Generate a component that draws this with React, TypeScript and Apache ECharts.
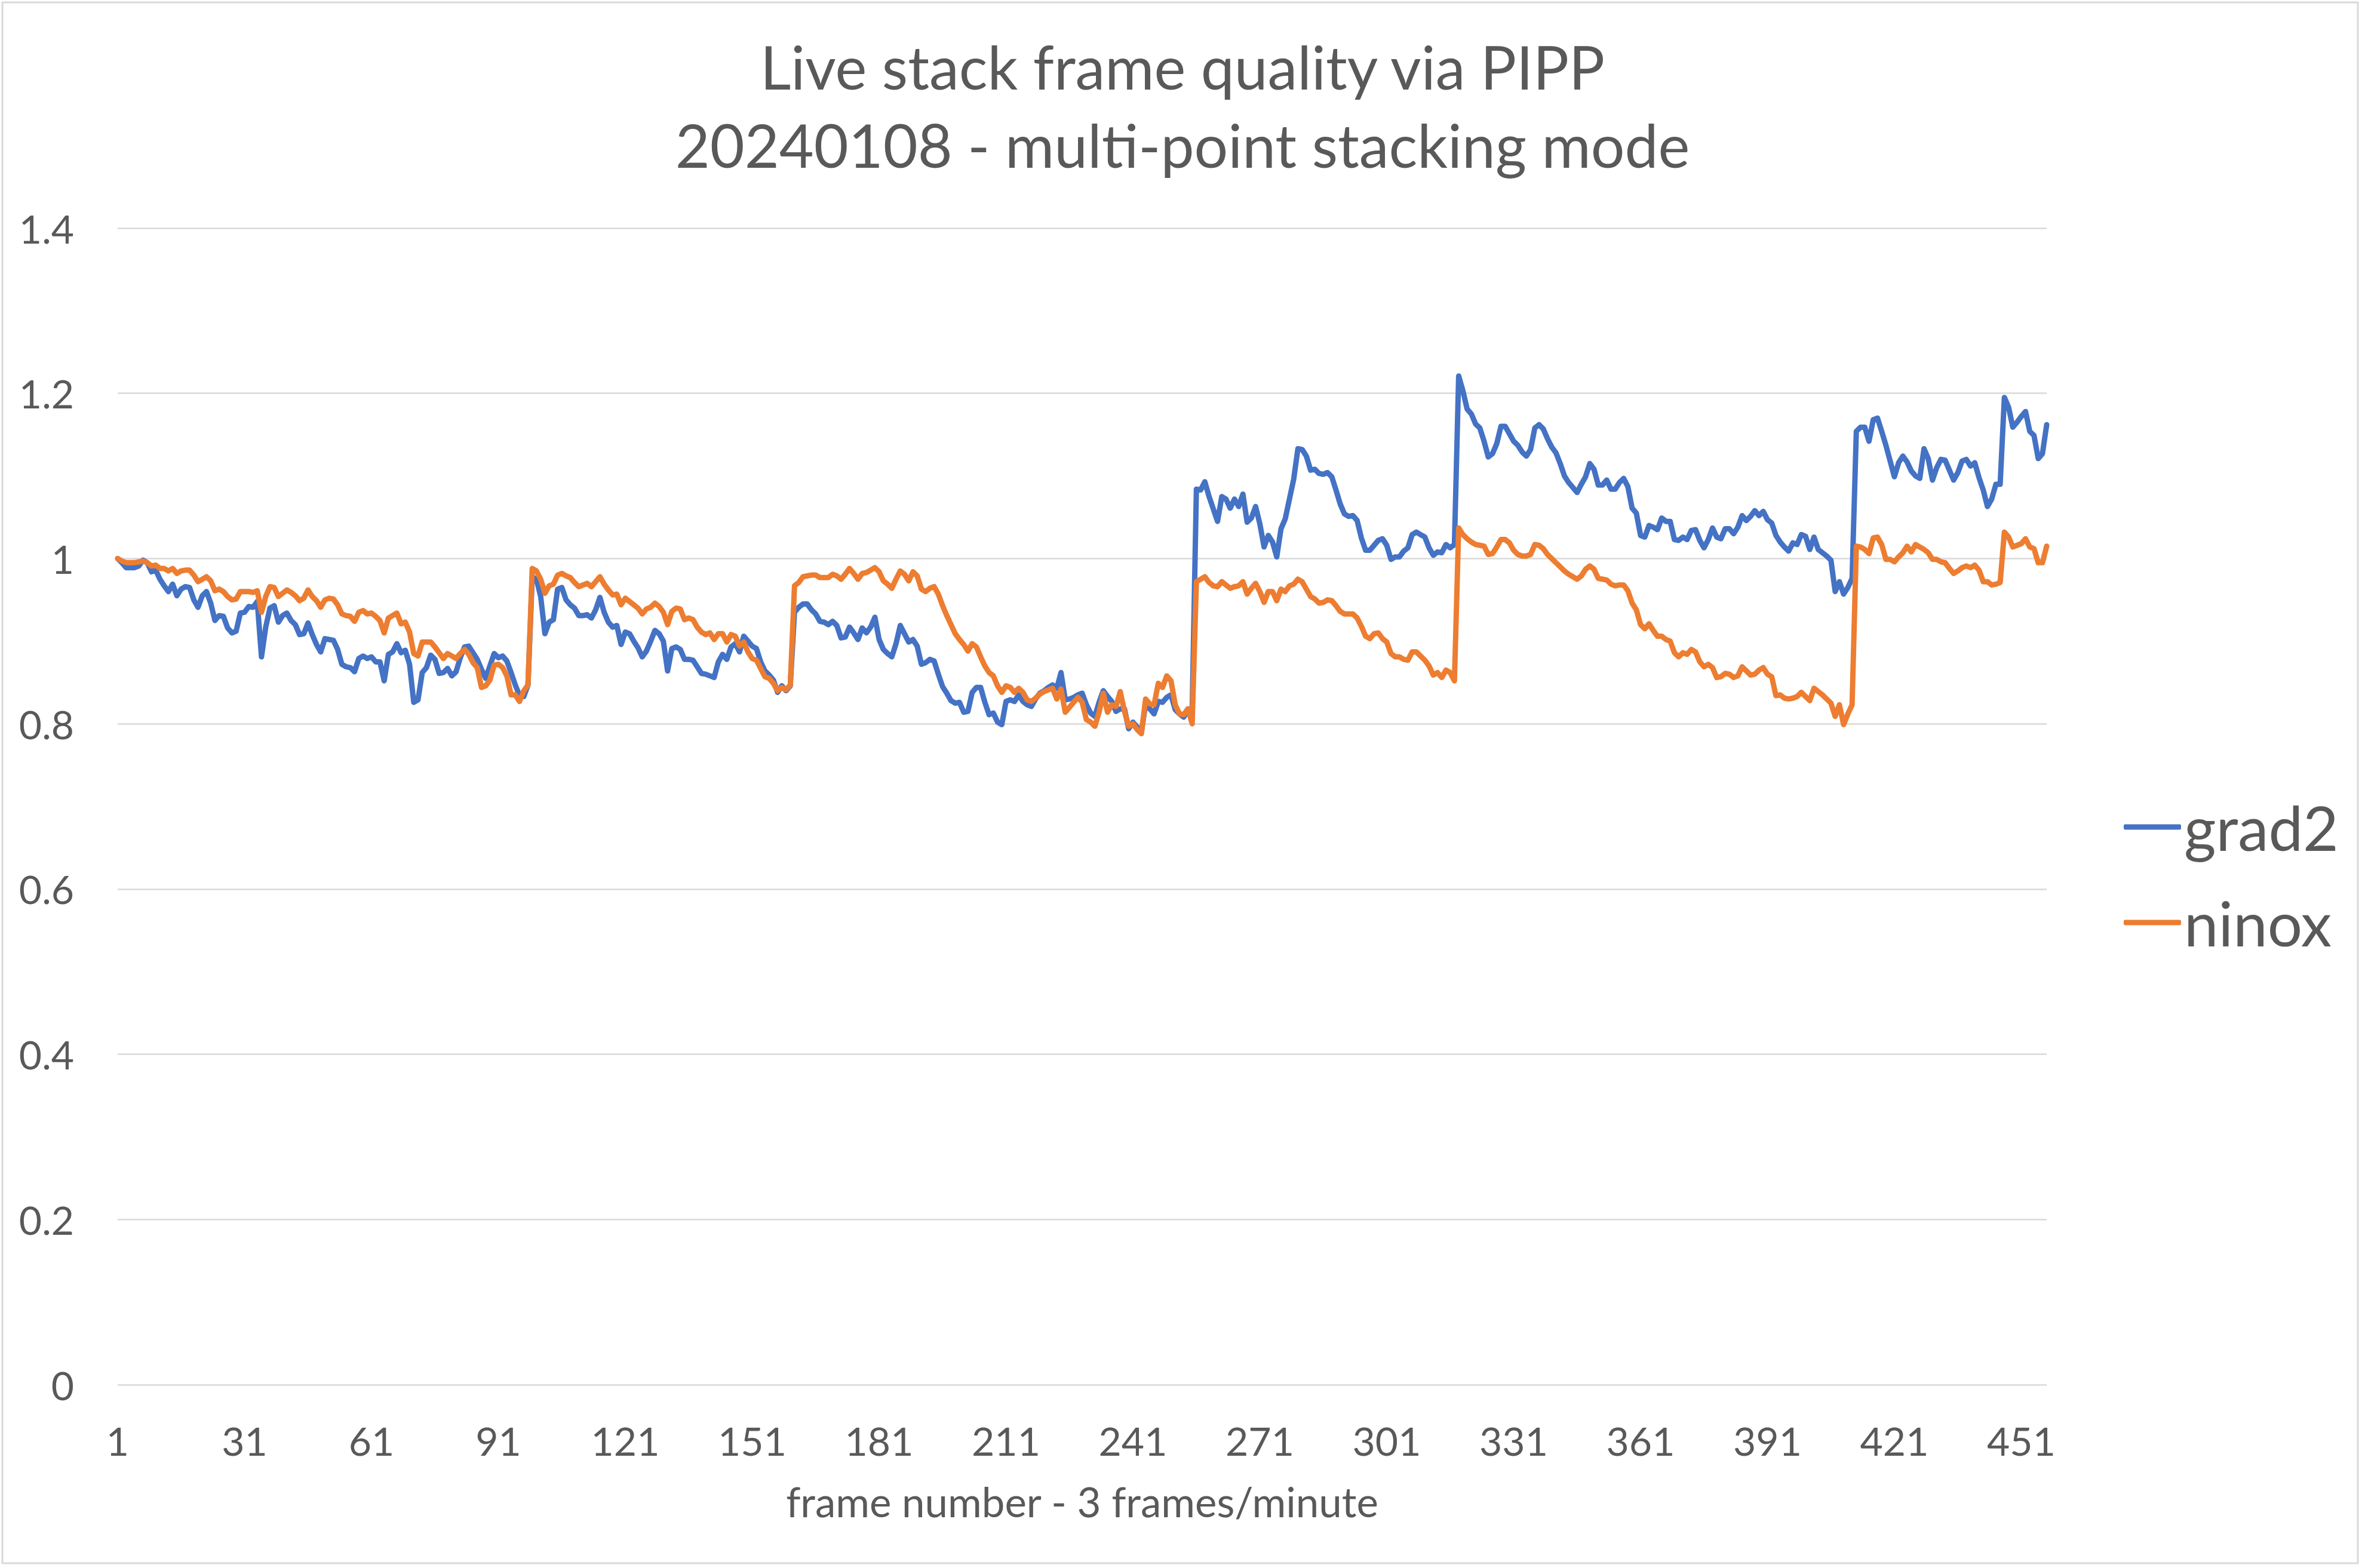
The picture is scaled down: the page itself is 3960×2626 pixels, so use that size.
import React, { useEffect, useRef } from "react";
import * as echarts from "echarts";

const FRAME_COUNT = 457;
const frames: string[] = Array.from({ length: FRAME_COUNT }, (_, i) => String(i + 1));

const titleLines = ["Live stack frame quality via PIPP", "20240108 - multi-point stacking mode"];
const xAxisTitle = "frame number - 3 frames/minute";
const seriesNames = ["grad2", "ninox"];

const grad2: number[] = [
  1.000, 0.995, 0.989, 0.989, 0.989, 0.991, 0.998, 0.995, 0.984, 0.986,
  0.975, 0.967, 0.960, 0.969, 0.955, 0.963, 0.966, 0.965, 0.950, 0.941,
  0.955, 0.960, 0.946, 0.925, 0.931, 0.930, 0.916, 0.910, 0.912, 0.934,
  0.935, 0.942, 0.941, 0.948, 0.881, 0.917, 0.940, 0.943, 0.923, 0.931,
  0.934, 0.925, 0.920, 0.908, 0.909, 0.922, 0.908, 0.896, 0.887, 0.903,
  0.902, 0.901, 0.890, 0.872, 0.869, 0.868, 0.863, 0.879, 0.882, 0.879,
  0.881, 0.875, 0.875, 0.852, 0.884, 0.887, 0.897, 0.886, 0.889, 0.872,
  0.826, 0.829, 0.862, 0.868, 0.883, 0.878, 0.861, 0.862, 0.867, 0.858,
  0.863, 0.880, 0.893, 0.894, 0.886, 0.878, 0.866, 0.855, 0.870, 0.885,
  0.880, 0.882, 0.876, 0.862, 0.847, 0.834, 0.833, 0.847, 0.978, 0.975,
  0.954, 0.909, 0.923, 0.926, 0.963, 0.965, 0.950, 0.944, 0.940, 0.931,
  0.931, 0.932, 0.928, 0.938, 0.953, 0.935, 0.923, 0.917, 0.919, 0.896,
  0.911, 0.909, 0.900, 0.892, 0.881, 0.888, 0.900, 0.913, 0.909, 0.900,
  0.864, 0.891, 0.893, 0.890, 0.878, 0.878, 0.877, 0.869, 0.861, 0.860,
  0.858, 0.856, 0.875, 0.884, 0.878, 0.893, 0.897, 0.887, 0.906, 0.900,
  0.894, 0.891, 0.875, 0.864, 0.859, 0.853, 0.838, 0.846, 0.840, 0.846,
  0.935, 0.941, 0.945, 0.945, 0.938, 0.933, 0.924, 0.923, 0.920, 0.924,
  0.919, 0.904, 0.905, 0.917, 0.910, 0.902, 0.916, 0.910, 0.917, 0.929,
  0.902, 0.890, 0.885, 0.881, 0.897, 0.919, 0.909, 0.899, 0.902, 0.894,
  0.872, 0.874, 0.878, 0.876, 0.860, 0.845, 0.837, 0.828, 0.825, 0.826,
  0.814, 0.815, 0.838, 0.844, 0.844, 0.826, 0.811, 0.813, 0.802, 0.799,
  0.827, 0.829, 0.827, 0.835, 0.827, 0.823, 0.821, 0.830, 0.837, 0.840,
  0.844, 0.847, 0.843, 0.862, 0.829, 0.830, 0.832, 0.835, 0.837, 0.823,
  0.813, 0.809, 0.826, 0.840, 0.833, 0.827, 0.815, 0.818, 0.818, 0.794,
  0.802, 0.796, 0.790, 0.824, 0.818, 0.812, 0.827, 0.826, 0.832, 0.835,
  0.817, 0.812, 0.808, 0.818, 0.815, 1.084, 1.083, 1.093, 1.075, 1.060,
  1.045, 1.075, 1.072, 1.061, 1.072, 1.063, 1.078, 1.044, 1.049, 1.063,
  1.042, 1.014, 1.028, 1.020, 1.002, 1.036, 1.048, 1.072, 1.096, 1.133,
  1.132, 1.124, 1.107, 1.108, 1.103, 1.102, 1.104, 1.099, 1.083, 1.066,
  1.054, 1.051, 1.052, 1.046, 1.025, 1.010, 1.010, 1.016, 1.022, 1.024,
  1.016, 0.999, 1.002, 1.002, 1.009, 1.013, 1.029, 1.032, 1.029, 1.026,
  1.013, 1.004, 1.008, 1.007, 1.017, 1.013, 1.017, 1.221, 1.203, 1.181,
  1.175, 1.163, 1.158, 1.142, 1.123, 1.127, 1.139, 1.160, 1.160, 1.151,
  1.142, 1.137, 1.129, 1.124, 1.132, 1.158, 1.162, 1.157, 1.145, 1.135,
  1.128, 1.115, 1.100, 1.092, 1.086, 1.080, 1.090, 1.099, 1.115, 1.108,
  1.089, 1.089, 1.095, 1.084, 1.084, 1.092, 1.097, 1.087, 1.061, 1.055,
  1.028, 1.026, 1.040, 1.038, 1.035, 1.049, 1.045, 1.045, 1.023, 1.022,
  1.026, 1.023, 1.034, 1.035, 1.022, 1.013, 1.023, 1.037, 1.026, 1.024,
  1.036, 1.036, 1.030, 1.038, 1.052, 1.046, 1.051, 1.058, 1.052, 1.057,
  1.047, 1.043, 1.028, 1.020, 1.014, 1.009, 1.019, 1.017, 1.029, 1.027,
  1.011, 1.026, 1.011, 1.007, 1.003, 0.998, 0.960, 0.972, 0.957, 0.965,
  0.976, 1.154, 1.159, 1.159, 1.142, 1.168, 1.170, 1.154, 1.137, 1.118,
  1.099, 1.116, 1.124, 1.117, 1.106, 1.100, 1.097, 1.133, 1.121, 1.095,
  1.110, 1.120, 1.119, 1.107, 1.095, 1.104, 1.118, 1.120, 1.112, 1.116,
  1.098, 1.083, 1.063, 1.072, 1.090, 1.090, 1.195, 1.183, 1.159, 1.165,
  1.172, 1.178, 1.154, 1.149, 1.121, 1.127, 1.162,
];

const ninox: number[] = [
  1.000, 0.997, 0.995, 0.995, 0.995, 0.996, 0.997, 0.995, 0.991, 0.992,
  0.988, 0.988, 0.985, 0.988, 0.982, 0.985, 0.986, 0.986, 0.980, 0.972,
  0.975, 0.978, 0.973, 0.961, 0.963, 0.960, 0.954, 0.950, 0.951, 0.960,
  0.960, 0.960, 0.959, 0.961, 0.935, 0.954, 0.966, 0.965, 0.954, 0.958,
  0.962, 0.959, 0.955, 0.949, 0.952, 0.962, 0.954, 0.949, 0.941, 0.950,
  0.952, 0.951, 0.944, 0.933, 0.931, 0.930, 0.924, 0.935, 0.937, 0.933,
  0.934, 0.930, 0.925, 0.910, 0.928, 0.931, 0.934, 0.921, 0.923, 0.911,
  0.885, 0.882, 0.899, 0.899, 0.899, 0.893, 0.886, 0.879, 0.885, 0.882,
  0.879, 0.885, 0.890, 0.884, 0.874, 0.868, 0.844, 0.846, 0.853, 0.871,
  0.872, 0.868, 0.858, 0.835, 0.835, 0.827, 0.840, 0.847, 0.988, 0.985,
  0.975, 0.958, 0.967, 0.969, 0.980, 0.982, 0.979, 0.977, 0.971, 0.966,
  0.968, 0.970, 0.966, 0.972, 0.978, 0.969, 0.962, 0.956, 0.957, 0.944,
  0.952, 0.948, 0.944, 0.940, 0.933, 0.939, 0.941, 0.946, 0.942, 0.935,
  0.920, 0.936, 0.940, 0.939, 0.926, 0.928, 0.926, 0.917, 0.911, 0.908,
  0.910, 0.902, 0.909, 0.909, 0.899, 0.908, 0.906, 0.894, 0.899, 0.887,
  0.879, 0.877, 0.867, 0.857, 0.855, 0.849, 0.840, 0.844, 0.841, 0.847,
  0.967, 0.971, 0.978, 0.979, 0.980, 0.980, 0.977, 0.977, 0.977, 0.981,
  0.979, 0.975, 0.981, 0.988, 0.982, 0.975, 0.982, 0.983, 0.986, 0.989,
  0.984, 0.973, 0.969, 0.964, 0.975, 0.985, 0.981, 0.973, 0.984, 0.979,
  0.963, 0.960, 0.964, 0.966, 0.957, 0.943, 0.931, 0.920, 0.909, 0.902,
  0.896, 0.888, 0.897, 0.893, 0.881, 0.870, 0.862, 0.858, 0.846, 0.838,
  0.846, 0.844, 0.838, 0.843, 0.838, 0.829, 0.827, 0.831, 0.836, 0.839,
  0.841, 0.843, 0.830, 0.842, 0.814, 0.820, 0.826, 0.832, 0.826, 0.805,
  0.802, 0.797, 0.814, 0.837, 0.814, 0.823, 0.821, 0.839, 0.815, 0.797,
  0.800, 0.793, 0.788, 0.830, 0.824, 0.823, 0.849, 0.844, 0.858, 0.852,
  0.823, 0.812, 0.811, 0.818, 0.800, 0.972, 0.975, 0.978, 0.971, 0.967,
  0.966, 0.972, 0.968, 0.964, 0.966, 0.967, 0.972, 0.957, 0.964, 0.970,
  0.960, 0.947, 0.960, 0.960, 0.949, 0.963, 0.960, 0.967, 0.969, 0.975,
  0.972, 0.963, 0.954, 0.951, 0.946, 0.947, 0.950, 0.949, 0.943, 0.936,
  0.933, 0.933, 0.933, 0.928, 0.918, 0.906, 0.903, 0.909, 0.910, 0.903,
  0.899, 0.885, 0.881, 0.881, 0.878, 0.877, 0.887, 0.887, 0.882, 0.877,
  0.870, 0.859, 0.862, 0.856, 0.865, 0.862, 0.852, 1.037, 1.029, 1.024,
  1.020, 1.017, 1.016, 1.015, 1.005, 1.006, 1.014, 1.023, 1.023, 1.019,
  1.010, 1.005, 1.003, 1.003, 1.005, 1.017, 1.016, 1.012, 1.005, 1.000,
  0.995, 0.990, 0.985, 0.981, 0.978, 0.975, 0.979, 0.987, 0.991, 0.987,
  0.976, 0.975, 0.974, 0.969, 0.967, 0.968, 0.968, 0.961, 0.946, 0.938,
  0.920, 0.915, 0.921, 0.913, 0.906, 0.906, 0.902, 0.900, 0.886, 0.881,
  0.886, 0.884, 0.890, 0.887, 0.875, 0.869, 0.872, 0.868, 0.856, 0.857,
  0.861, 0.860, 0.856, 0.858, 0.869, 0.864, 0.859, 0.860, 0.865, 0.868,
  0.860, 0.857, 0.834, 0.835, 0.831, 0.830, 0.831, 0.833, 0.838, 0.833,
  0.828, 0.843, 0.839, 0.835, 0.830, 0.825, 0.809, 0.823, 0.799, 0.812,
  0.823, 1.015, 1.014, 1.011, 1.006, 1.025, 1.026, 1.017, 0.999, 0.999,
  0.996, 1.002, 1.007, 1.015, 1.008, 1.017, 1.014, 1.011, 1.007, 0.999,
  0.999, 0.996, 0.995, 0.988, 0.982, 0.985, 0.989, 0.991, 0.989, 0.992,
  0.986, 0.972, 0.972, 0.968, 0.969, 0.971, 1.032, 1.026, 1.014, 1.016,
  1.018, 1.024, 1.014, 1.012, 0.995, 0.995, 1.015,
];

const TEXT = "#595959";
const FONT = "Lato, 'Open Sans', sans-serif";

export default function App() {
  const ref = useRef<HTMLDivElement>(null);

  useEffect(() => {
    if (!ref.current) return;
    const chart = echarts.init(ref.current, undefined, { renderer: "svg" });
    chart.setOption({
      animation: false,
      backgroundColor: "#ffffff",
      textStyle: { fontFamily: FONT, color: TEXT },
      title: {
        text: titleLines.join("\n"),
        left: "center",
        top: 40,
        textStyle: {
          fontFamily: FONT,
          fontWeight: "normal",
          fontSize: 100,
          lineHeight: 131,
          color: TEXT,
        },
      },
      legend: {
        orient: "vertical",
        left: 3551,
        top: 1327,
        icon: "roundRect",
        itemWidth: 96,
        itemHeight: 9,
        itemGap: 54,
        textStyle: { fontFamily: FONT, fontSize: 103, lineHeight: 106, color: TEXT },
        data: seriesNames,
      },
      grid: { left: 197, right: 533, top: 382, bottom: 307, containLabel: false },
      xAxis: {
        type: "category",
        data: frames,
        boundaryGap: false,
        axisLine: { show: false },
        axisTick: { show: false },
        axisLabel: {
          interval: 29,
          fontSize: 66,
          color: TEXT,
          fontFamily: FONT,
          margin: 60,
        },
        name: xAxisTitle,
        nameLocation: "middle",
        nameGap: 161,
        nameTextStyle: { fontSize: 69, color: TEXT, fontFamily: FONT },
      },
      yAxis: {
        type: "value",
        min: 0,
        max: 1.4,
        interval: 0.2,
        axisLine: { show: false },
        axisTick: { show: false },
        axisLabel: {
          fontSize: 66,
          color: TEXT,
          fontFamily: FONT,
          margin: 73,
          formatter: (v: number) => String(Math.round(v * 10) / 10),
        },
        splitLine: { lineStyle: { color: "#d9d9d9", width: 2.5 } },
      },
      series: [
        {
          name: seriesNames[0],
          type: "line",
          data: grad2,
          showSymbol: false,
          color: "#4472C4",
          lineStyle: { width: 9, color: "#4472C4", join: "round", cap: "round" },
        },
        {
          name: seriesNames[1],
          type: "line",
          data: ninox,
          showSymbol: false,
          color: "#ED7D31",
          lineStyle: { width: 9, color: "#ED7D31", join: "round", cap: "round" },
        },
      ],
      graphic: [
        {
          type: "rect",
          shape: { x: 4, y: 4, width: 3944, height: 2614 },
          style: { fill: "none", stroke: "#d9d9d9", lineWidth: 3 },
          silent: true,
          z: -1,
        },
      ],
    });
    return () => chart.dispose();
  }, []);

  return (
    <div
      ref={ref}
      style={{ position: "absolute", left: 0, top: 0, width: 3960, height: 2626, background: "#fff" }}
    />
  );
}
